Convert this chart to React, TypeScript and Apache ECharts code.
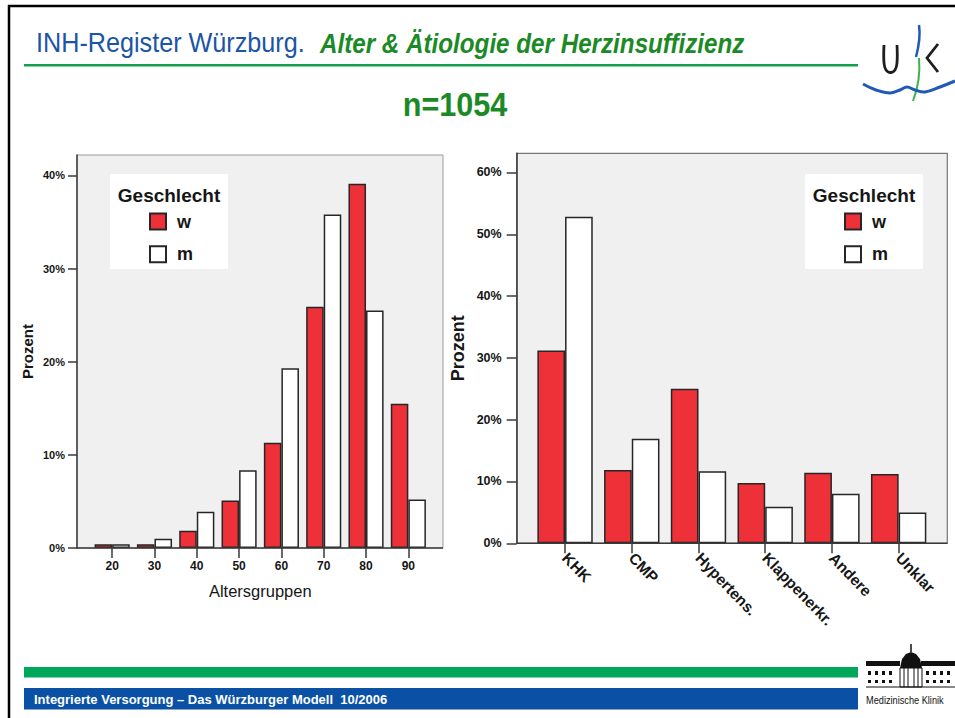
import React, { useEffect, useRef } from "react";
import * as echarts from "echarts";

// ---- data ----
const ageGroups = ["20", "30", "40", "50", "60", "70", "80", "90"];
const ageW = [0.4, 0.4, 1.85, 5.1, 11.3, 25.9, 39.1, 15.5];
const ageM = [0.4, 1.0, 3.9, 8.35, 19.3, 35.8, 25.5, 5.2];

const etiology = ["KHK", "CMP", "Hypertens.", "Klappenerkr.", "Andere", "Unklar"];
const etioW = [31.2, 11.85, 25.0, 9.75, 11.4, 11.2];
const etioM = [52.85, 16.9, 11.65, 5.9, 8.0, 5.0];

const leftTicks = [0, 10, 20, 30, 40];
const rightTicks = [0, 10, 20, 30, 40, 50, 60];

const legendTitle = "Geschlecht";
const seriesNames = ["w", "m"];

const SANS = "'Liberation Sans', Arial, sans-serif";
const RED = "#ee3039";
const BORDER = "#262626";
const AXIS = "#3a3a3a";
const TXT = "#161616";

export default function App() {
  const ref = useRef<HTMLDivElement>(null);

  useEffect(() => {
    if (!ref.current) return;
    const chart = echarts.init(ref.current, null, { renderer: "svg" });

    const barStyle = (fill: string) => ({
      color: fill,
      borderColor: BORDER,
      borderWidth: 1.5,
    });

    const legendBox = (bx: number, by: number) => [
      {
        type: "rect",
        z: -1,
        shape: { x: bx, y: by, width: 118, height: 95 },
        style: { fill: "#ffffff" },
      },
      {
        type: "text",
        z: 5,
        x: bx + 59,
        y: by + 21,
        style: {
          text: legendTitle,
          fontFamily: SANS,
          fontSize: 19,
          fontWeight: "bold",
          fill: TXT,
          align: "center",
          verticalAlign: "middle",
        },
      },
    ];

    const legendCommon = {
      data: seriesNames,
      orient: "vertical",
      top: 207.5,
      padding: 5,
      itemWidth: 16,
      itemHeight: 16,
      itemGap: 14.7,
      icon: "rect",
      selectedMode: false,
      textStyle: { fontFamily: SANS, fontSize: 18, fontWeight: "bold", color: TXT, lineHeight: 16, padding: [0, 0, 0, 6] },
    };

    const option: any = {
      animation: false,
      backgroundColor: "#ffffff",
      textStyle: { fontFamily: SANS },
      grid: [
        { left: 91, top: 155, width: 338.5, height: 393 },
        { left: 531.7, top: 153.3, width: 400.3, height: 390 },
      ],
      legend: [
        { ...legendCommon, left: 144 },
        { ...legendCommon, left: 839 },
      ],
      xAxis: [
        {
          type: "category",
          gridIndex: 0,
          data: ageGroups,
          name: "Altersgruppen",
          nameLocation: "middle",
          nameGap: 34,
          nameTextStyle: { fontFamily: SANS, fontSize: 16.5, color: TXT },
          axisLine: { show: false },
          axisTick: { show: true, alignWithLabel: true, length: 10, lineStyle: { color: AXIS, width: 1.5 } },
          axisLabel: { fontFamily: SANS, fontSize: 12, fontWeight: "bold", color: TXT, margin: 12 },
        },
        {
          type: "category",
          gridIndex: 1,
          data: etiology,
          axisLine: { show: false },
          axisTick: { show: true, alignWithLabel: true, length: 10, lineStyle: { color: AXIS, width: 1.5 } },
          axisLabel: { fontFamily: SANS, fontSize: 15.5, fontWeight: "bold", color: TXT, rotate: -46, margin: 12, interval: 0 },
        },
      ],
      yAxis: [
        {
          type: "value",
          gridIndex: 0,
          min: 0,
          max: 42.2,
          offset: 14,
          name: "Prozent",
          nameLocation: "middle",
          nameGap: 42.5,
          nameTextStyle: { fontFamily: SANS, fontSize: 15, fontWeight: "bold", color: TXT },
          splitLine: { show: false },
          axisLine: { show: true, lineStyle: { color: AXIS, width: 1.5 } },
          axisTick: { show: true, length: 9, lineStyle: { color: AXIS, width: 1.5 }, customValues: leftTicks },
          axisLabel: {
            fontFamily: SANS,
            fontSize: 11,
            fontWeight: "bold",
            color: TXT,
            margin: 12,
            customValues: leftTicks,
            formatter: (v: number) => `${v}%`,
          },
        },
        {
          type: "value",
          gridIndex: 1,
          min: 0,
          max: 63.1,
          offset: 15,
          name: "Prozent",
          nameLocation: "middle",
          nameGap: 50,
          nameTextStyle: { fontFamily: SANS, fontSize: 18, fontWeight: "bold", color: TXT },
          splitLine: { show: false },
          axisLine: { show: true, lineStyle: { color: AXIS, width: 1.5 } },
          axisTick: { show: true, length: 10, lineStyle: { color: AXIS, width: 1.5 }, customValues: rightTicks },
          axisLabel: {
            fontFamily: SANS,
            fontSize: 12.5,
            fontWeight: "bold",
            color: TXT,
            margin: 15,
            customValues: rightTicks,
            formatter: (v: number) => `${v}%`,
          },
        },
      ],
      series: [
        { name: "w", type: "bar", xAxisIndex: 0, yAxisIndex: 0, data: ageW, barGap: 0, barCategoryGap: "17%", itemStyle: barStyle(RED) },
        { name: "m", type: "bar", xAxisIndex: 0, yAxisIndex: 0, data: ageM, barGap: 0, barCategoryGap: "17%", itemStyle: barStyle("#ffffff") },
        { name: "w", type: "bar", xAxisIndex: 1, yAxisIndex: 1, data: etioW, barGap: 0, barCategoryGap: "17%", itemStyle: barStyle(RED) },
        { name: "m", type: "bar", xAxisIndex: 1, yAxisIndex: 1, data: etioM, barGap: 0, barCategoryGap: "17%", itemStyle: barStyle("#ffffff") },
      ],
      graphic: [
        // slide frame
        { type: "line", shape: { x1: 8, y1: 6, x2: 955, y2: 6 }, style: { stroke: "#000", lineWidth: 2.5 } },
        { type: "line", shape: { x1: 9, y1: 5, x2: 9, y2: 718 }, style: { stroke: "#000", lineWidth: 2.5 } },
        // header
        {
          type: "text",
          x: 36,
          y: 43,
          scaleX: 0.9,
          style: { text: "INH-Register Würzburg.", fontFamily: SANS, fontSize: 28, fill: "#1b55a6", verticalAlign: "middle" },
        },
        {
          type: "text",
          x: 320,
          y: 43,
          scaleX: 0.865,
          style: {
            text: "Alter & Ätiologie der Herzinsuffizienz",
            fontFamily: SANS,
            fontSize: 28,
            fontStyle: "italic",
            fontWeight: "bold",
            fill: "#1b8a26",
            verticalAlign: "middle",
          },
        },
        { type: "rect", shape: { x: 24, y: 64, width: 834, height: 2.5 }, style: { fill: "#13a04e" } },
        {
          type: "text",
          x: 455,
          y: 104,
          scaleX: 0.9,
          style: { text: "n=1054", fontFamily: SANS, fontSize: 34, fontWeight: "bold", fill: "#1b8a26", align: "center", verticalAlign: "middle" },
        },
        // UK logo
        {
          type: "polyline",
          shape: { points: [[884, 45], [884, 63], [886, 70], [890.5, 72.5], [895, 70], [897, 63], [897, 45]], smooth: 0.4 },
          style: { stroke: "#1e1e1e", lineWidth: 2.8, fill: "none" },
        },
        {
          type: "polyline",
          shape: { points: [[938, 44], [927, 58], [938, 72]] },
          style: { stroke: "#1e1e1e", lineWidth: 2.8, fill: "none" },
        },
        {
          type: "bezierCurve",
          shape: { x1: 919, y1: 25, x2: 916, y2: 57, cpx1: 921, cpy1: 38 },
          style: { stroke: "#1f5bb5", lineWidth: 2.5, fill: "none" },
        },
        {
          type: "bezierCurve",
          shape: { x1: 919, y1: 58, x2: 913, y2: 101, cpx1: 921, cpy1: 80 },
          style: { stroke: "#3db34a", lineWidth: 2, fill: "none" },
        },
        {
          type: "polyline",
          shape: {
            points: [[863, 84], [876, 90], [890, 93], [900, 90], [907, 87], [915, 90], [925, 92], [940, 87], [955, 81]],
            smooth: 0.4,
          },
          style: { stroke: "#1f5bb5", lineWidth: 3, fill: "none" },
        },
        // plot backgrounds
        {
          type: "rect",
          z: -2,
          shape: { x: 77, y: 155, width: 366, height: 393 },
          style: { fill: "#f0f0f0", stroke: "#9a9a9a", lineWidth: 1 },
        },
        {
          type: "rect",
          z: -2,
          shape: { x: 516.7, y: 153.3, width: 430.6, height: 390 },
          style: { fill: "#f0f0f0", stroke: "#777777", lineWidth: 1.2 },
        },
        { type: "line", z: 3, shape: { x1: 77, y1: 548, x2: 443, y2: 548 }, style: { stroke: AXIS, lineWidth: 1.5 } },
        { type: "line", z: 3, shape: { x1: 516.7, y1: 543.3, x2: 947.3, y2: 543.3 }, style: { stroke: AXIS, lineWidth: 1.5 } },
        // legend boxes
        ...legendBox(110, 174),
        ...legendBox(805, 174),
        // footer
        { type: "rect", shape: { x: 24, y: 667, width: 834, height: 10.5 }, style: { fill: "#00a65a" } },
        { type: "rect", shape: { x: 24, y: 688, width: 834, height: 21.5 }, style: { fill: "#0a51a5" } },
        {
          type: "text",
          x: 34,
          y: 699,
          style: {
            text: "Integrierte Versorgung – Das Würzburger Modell  10/2006",
            fontFamily: SANS,
            fontSize: 13,
            fontWeight: "bold",
            fill: "#ffffff",
            verticalAlign: "middle",
          },
        },
        // Medizinische Klinik logo (simplified building)
        { type: "rect", shape: { x: 866, y: 661, width: 34, height: 5 }, style: { fill: "#111" } },
        { type: "rect", shape: { x: 921, y: 661, width: 34, height: 5 }, style: { fill: "#111" } },
        {
          type: "polygon",
          shape: { points: [[900, 668], [902, 659], [906, 654], [911, 652], [916, 654], [920, 659], [922, 668]] },
          style: { fill: "#111" },
        },
        { type: "line", shape: { x1: 911, y1: 644, x2: 911, y2: 652 }, style: { stroke: "#111", lineWidth: 1.5 } },
        { type: "rect", shape: { x: 900, y: 668, width: 22, height: 19 }, style: { fill: "#fff", stroke: "#111", lineWidth: 1 } },
        { type: "line", shape: { x1: 904, y1: 668, x2: 904, y2: 687 }, style: { stroke: "#111", lineWidth: 1 } },
        { type: "line", shape: { x1: 908, y1: 668, x2: 908, y2: 687 }, style: { stroke: "#111", lineWidth: 1 } },
        { type: "line", shape: { x1: 914, y1: 668, x2: 914, y2: 687 }, style: { stroke: "#111", lineWidth: 1 } },
        { type: "line", shape: { x1: 918, y1: 668, x2: 918, y2: 687 }, style: { stroke: "#111", lineWidth: 1 } },
        ...[868, 875, 882, 889, 926, 933, 940, 947].flatMap((wx) => [
          { type: "rect", shape: { x: wx, y: 671, width: 3, height: 4 }, style: { fill: "#111" } },
          { type: "rect", shape: { x: wx, y: 680, width: 3, height: 3 }, style: { fill: "#111" } },
        ]),
        { type: "line", shape: { x1: 866, y1: 687, x2: 955, y2: 687 }, style: { stroke: "#111", lineWidth: 1 } },
        {
          type: "text",
          x: 866,
          y: 700,
          scaleX: 0.8,
          style: { text: "Medizinische Klinik", fontFamily: SANS, fontSize: 11.5, fill: "#111", verticalAlign: "middle" },
        },
      ],
    };

    chart.setOption(option);
    return () => chart.dispose();
  }, []);

  return (
    <div
      ref={ref}
      style={{ position: "fixed", left: 0, top: 0, width: 955, height: 718, background: "#fff" }}
    />
  );
}
